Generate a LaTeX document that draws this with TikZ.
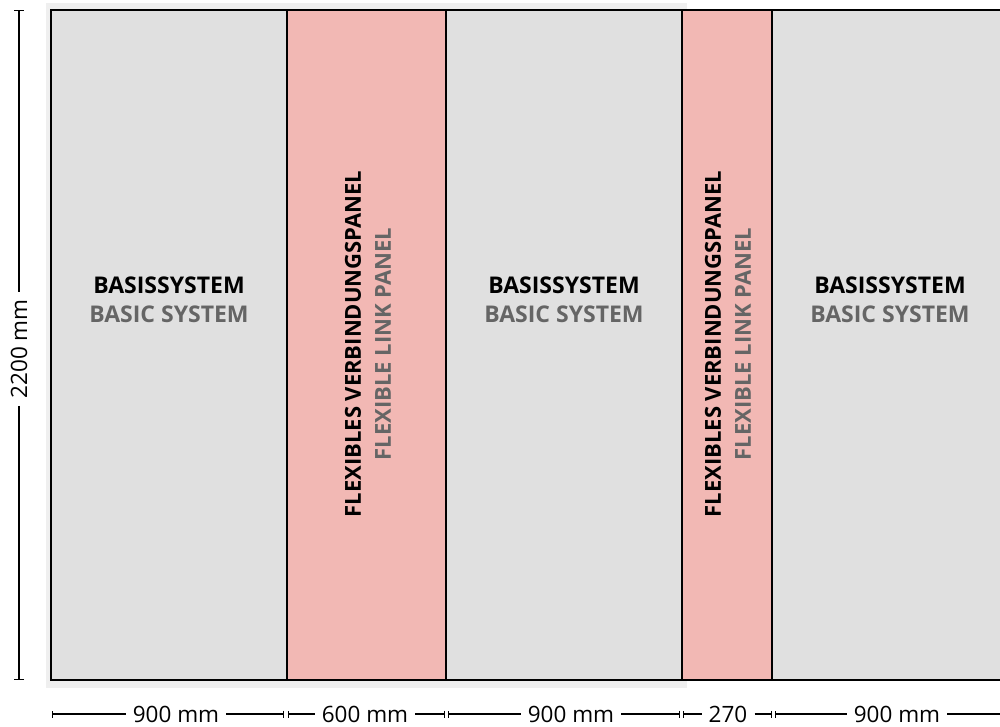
\documentclass[tikz,border=0pt]{standalone}
\usepackage{fontspec}
\setmainfont{Open Sans}
\usepackage{tikz}
\usetikzlibrary{positioning}
\usetikzlibrary{arrows.meta}
\definecolor{basegrey}{HTML}{E0E0E0}
\definecolor{linkred}{HTML}{F2B8B4}
\definecolor{backgrey}{HTML}{EFEFEF}
\definecolor{subgrey}{HTML}{656565}
\tikzstyle{panel}=[draw=black,line width=1.2pt]
\tikzstyle{title}=[font=\bfseries\fontsize{23}{27}\selectfont,inner sep=0pt]
\tikzstyle{subtitle}=[title,text=subgrey]
\tikzstyle{dim}=[line width=1.4pt]
\tikzstyle{dimlabel}=[font=\fontsize{22.5}{26}\selectfont,inner xsep=7pt,inner ysep=0pt]

\begin{document}
\begin{tikzpicture}[x=1pt,y=1pt]
\useasboundingbox (0,0) rectangle (1000,-727);
\clip (0,0) rectangle (1000,-727);

% Background
\fill[backgrey] (46,-3) rectangle (687,-688);

% Panels
\filldraw[panel,fill=basegrey] (51,-10) rectangle (287,-680);
\filldraw[panel,fill=linkred] (287,-10) rectangle (446,-680);
\filldraw[panel,fill=basegrey] (446,-10) rectangle (682,-680);
\filldraw[panel,fill=linkred] (682,-10) rectangle (772,-680);
\filldraw[panel,fill=basegrey] (772,-10) rectangle (1008,-680);

% Basic system labels
\node[title] (b1) at (169,-285) {BASISSYSTEM};
\node[subtitle] (b1e) at (169,-314) {BASIC SYSTEM};
\node[title] (b2) at (564,-285) {BASISSYSTEM};
\node[subtitle] (b2e) at (564,-314) {BASIC SYSTEM};
\node[title] (b3) at (890,-285) {BASISSYSTEM};
\node[subtitle] (b3e) at (890,-314) {BASIC SYSTEM};

% Flexible link panel labels
\node[title,font=\bfseries\fontsize{22}{26}\selectfont,rotate=90] (f1) at (353,-344) {FLEXIBLES VERBINDUNGSPANEL};
\node[subtitle,font=\bfseries\fontsize{22}{26}\selectfont,rotate=90] (f1e) at (383,-344) {FLEXIBLE LINK PANEL};
\node[title,font=\bfseries\fontsize{22}{26}\selectfont,rotate=90] (f2) at (713,-344) {FLEXIBLES VERBINDUNGSPANEL};
\node[subtitle,font=\bfseries\fontsize{22}{26}\selectfont,rotate=90] (f2e) at (743,-344) {FLEXIBLE LINK PANEL};

% Height
\coordinate (htop) at (19,-10);
\coordinate (hbot) at (19,-680);
\node[dimlabel,rotate=90] (hl) at (19,-349) {2200 mm};
\draw[dim,{Bar[width=10pt]}-] (htop) -- (hl);
\draw[dim,-{Bar[width=10pt]}] (hl) -- (hbot);

% Widths
\coordinate (w0) at (52,-714);
\coordinate (w1) at (284,-714);
\coordinate (w1b) at (288,-714);
\coordinate (w2) at (445,-714);
\coordinate (w2b) at (448,-714);
\coordinate (w3) at (680,-714);
\coordinate (w3b) at (683,-714);
\coordinate (w4) at (772,-714);
\coordinate (w4b) at (775,-714);
\coordinate (w5) at (1008,-714);

\node[dimlabel] (l1) at (176,-714) {900 mm};
\node[dimlabel] (l2) at (365,-714) {600 mm};
\node[dimlabel] (l3) at (571,-714) {900 mm};
\node[dimlabel] (l4) at (728,-714) {270};
\node[dimlabel] (l5) at (897,-714) {900 mm};

\draw[dim,{Bar[width=7pt]}-] (w0) -- (l1);
\draw[dim,-{Bar[width=7pt]}] (l1) -- (w1);
\draw[dim,{Bar[width=7pt]}-] (w1b) -- (l2);
\draw[dim,-{Bar[width=7pt]}] (l2) -- (w2);
\draw[dim,{Bar[width=7pt]}-] (w2b) -- (l3);
\draw[dim,-{Bar[width=7pt]}] (l3) -- (w3);
\draw[dim,{Bar[width=7pt]}-] (w3b) -- (l4);
\draw[dim,-{Bar[width=7pt]}] (l4) -- (w4);
\draw[dim,{Bar[width=7pt]}-] (w4b) -- (l5);
\draw[dim,-{Bar[width=7pt]}] (l5) -- (w5);

\end{tikzpicture}
\end{document}
